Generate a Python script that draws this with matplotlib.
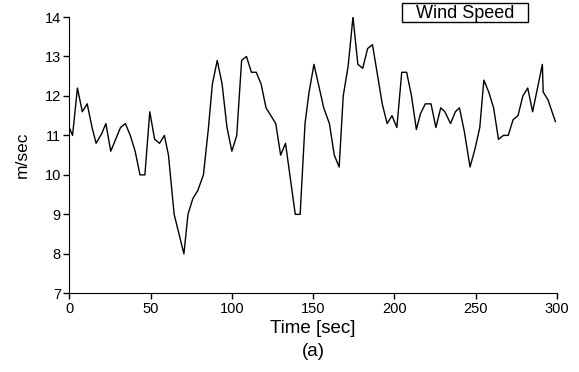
import matplotlib
matplotlib.use("Agg")
import matplotlib.pyplot as plt
from matplotlib.patches import Rectangle

# wind speed record (time in s, speed in m/sec)
time_s = [0, 2, 5, 8, 11, 14, 16.5, 20, 22.5, 25.5, 28.5, 31.5, 34.5, 37.5,
          40.5, 43.5, 46.5, 49.5, 52.5, 55.5, 58.5, 61, 64.5, 67.5, 70.5, 73,
          76, 79, 82.5, 85.5, 88, 91, 94, 97, 100, 103, 106, 109, 112, 115,
          118, 121, 124, 127, 130, 133, 136, 139, 142, 145, 147.5, 150.5,
          153.5, 156.5, 160, 163, 166, 168.5, 171.5, 174.5, 177.5, 180.5,
          183.5, 186.5, 189.5, 192.5, 195.5, 198.5, 201.5, 204.5, 207.5,
          210.5, 213.5, 216, 219, 222.5, 225.5, 228.5, 231, 234.5, 237.5,
          240, 243, 246.5, 249.5, 252.5, 255, 258, 261, 264, 267, 270, 273,
          276, 279, 282, 285, 288, 291, 291.5, 294.5, 299]
speed = [11.2, 11.0, 12.2, 11.6, 11.8, 11.2, 10.8, 11.05, 11.3, 10.6, 10.9,
         11.2, 11.3, 11.0, 10.6, 10.0, 10.0, 11.6, 10.9, 10.8, 11.0, 10.5,
         9.0, 8.5, 8.0, 9.0, 9.4, 9.6, 10.0, 11.15, 12.3, 12.9, 12.3, 11.2,
         10.6, 11.0, 12.9, 13.0, 12.6, 12.6, 12.3, 11.7, 11.5, 11.3, 10.5,
         10.8, 9.9, 9.0, 9.0, 11.3, 12.1, 12.8, 12.25, 11.7, 11.3, 10.5, 10.2,
         12.0, 12.75, 14.0, 12.8, 12.7, 13.2, 13.3, 12.55, 11.8, 11.3, 11.5,
         11.2, 12.6, 12.6, 12.0, 11.15, 11.55, 11.8, 11.8, 11.2, 11.7, 11.6,
         11.3, 11.6, 11.7, 11.1, 10.2, 10.65, 11.2, 12.4, 12.1, 11.7, 10.9,
         11.0, 11.0, 11.4, 11.5, 12.0, 12.2, 11.6, 12.2, 12.8, 12.1, 11.9,
         11.35]

x_ticks = [0, 50, 100, 150, 200, 250, 300]
y_ticks = [7, 8, 9, 10, 11, 12, 13, 14]

plt.rcParams['font.family'] = ['Liberation Sans', 'DejaVu Sans']

W, H = 579, 372
fig = plt.figure(figsize=(W / 100, H / 100), dpi=100)
ax = fig.add_axes([69.3 / W, 1 - 293.3 / H, (557 - 69.3) / W, (293.3 - 17) / H])

ax.plot(time_s, speed, color='black', linewidth=1.0)

ax.set_xlim(0, 300)
ax.set_ylim(7, 14)
ax.set_xticks(x_ticks)
ax.set_yticks(y_ticks)
ax.tick_params(direction='out', length=4, width=1, labelsize=10.5, pad=2)

ax.spines['top'].set_visible(False)
ax.spines['right'].set_visible(False)

ax.set_xlabel("Time [sec]", fontsize=13.5, labelpad=3)
ax.set_ylabel("m/sec", fontsize=12.5, labelpad=11)
fig.text(0.5 * (69.3 + 557) / W, 1 - 352 / H, "(a)", fontsize=13.5,
         ha='center', va='center')

# label box in the top right corner
bx0, bx1, by0, by1 = 402, 528, 3, 21.5
fig.patches.append(Rectangle((bx0 / W, 1 - by1 / H), (bx1 - bx0) / W,
                             (by1 - by0) / H, transform=fig.transFigure,
                             facecolor='white', edgecolor='black',
                             linewidth=1))
fig.text(0.5 * (bx0 + bx1) / W, 1 - 17.5 / H, "Wind Speed",
         fontsize=13, ha='center', va='baseline')

fig.savefig("out.png", dpi=100)
